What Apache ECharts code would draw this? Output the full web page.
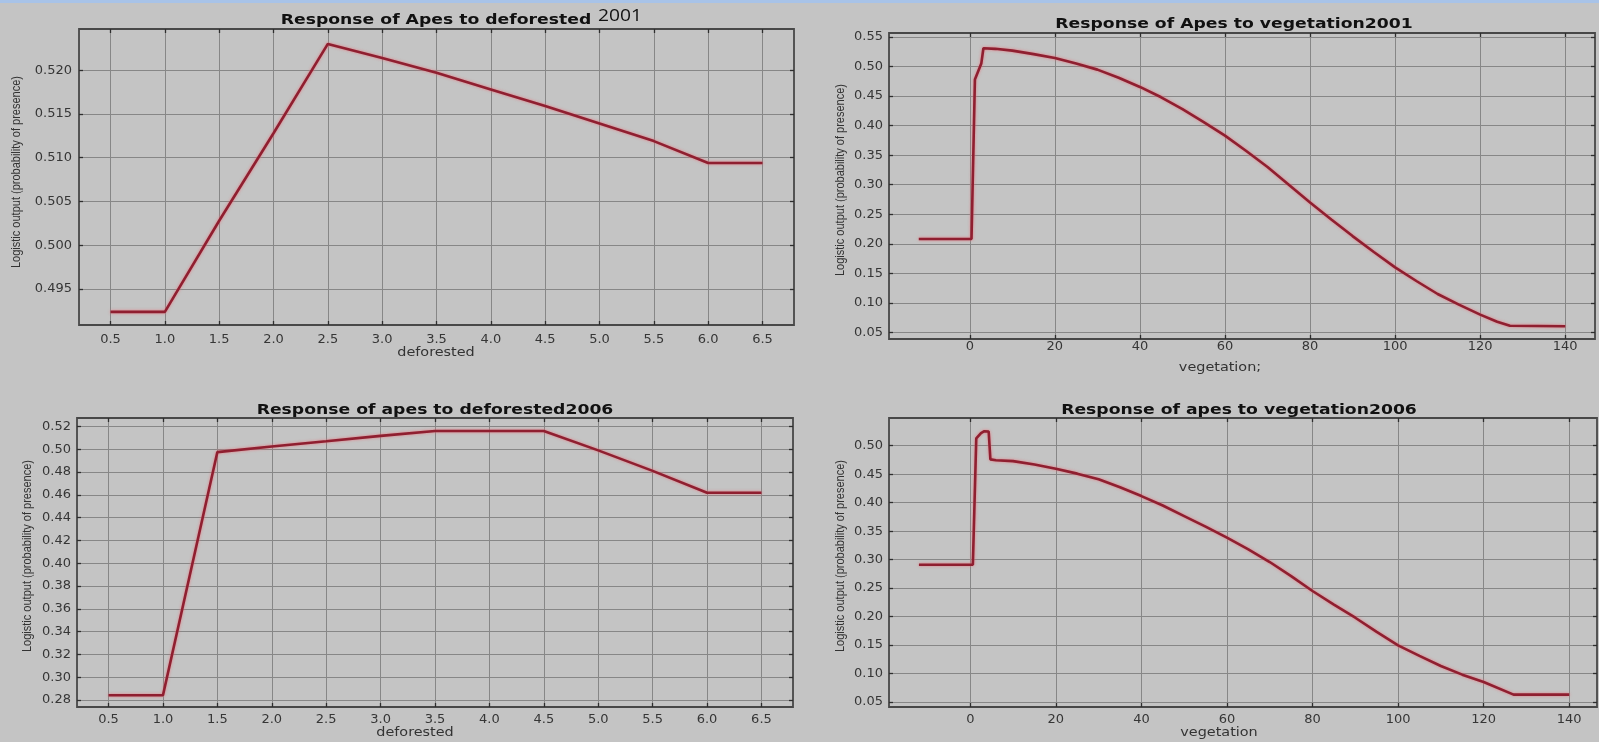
<!DOCTYPE html>
<html><head><meta charset="utf-8">
<script src="https://cdn.jsdelivr.net/npm/echarts@6/dist/echarts.min.js"></script>
<style>html,body{margin:0;padding:0;background:#c4c4c4;}#c{width:1599px;height:742px;}</style>
</head><body><div id="c"></div><script>
// ---- data ----
const titles = ['Response of Apes to deforested', 'Response of Apes to vegetation2001', 'Response of apes to deforested2006', 'Response of apes to vegetation2006'];
const titleSuffix1 = '2001';
const xNames = ['deforested', 'vegetation;', 'deforested', 'vegetation'];
const yName = 'Logistic output (probability of presence)';

const def2001X = [0.5, 1.0, 1.5, 2.0, 2.5, 3.0, 3.5, 4.0, 4.5, 5.0, 5.5, 6.0, 6.5];
const def2001Y = [0.4924, 0.4924, 0.5028, 0.5128, 0.5230, 0.5214, 0.5197, 0.5178, 0.5159, 0.5139, 0.5119, 0.5094, 0.5094];

const veg2001X = [-12, 0.4, 1.2, 2.7, 3.2, 6, 10, 15, 20, 25, 30, 35, 40, 45, 50, 55, 60, 65, 70, 75, 80, 85, 90, 95, 100, 105, 110, 115, 120, 124, 127, 140];
const veg2001Y = [0.208, 0.208, 0.478, 0.505, 0.531, 0.530, 0.527, 0.521, 0.5145, 0.505, 0.4948, 0.481, 0.4655, 0.448, 0.428, 0.406, 0.383, 0.357, 0.330, 0.300, 0.270, 0.241, 0.213, 0.186, 0.160, 0.137, 0.115, 0.097, 0.080, 0.068, 0.0612, 0.0605];

const def2006X = [0.5, 1.0, 1.5, 2.0, 2.5, 3.0, 3.5, 4.0, 4.5, 5.0, 5.5, 6.0, 6.5];
const def2006Y = [0.2842, 0.2842, 0.4975, 0.5024, 0.5070, 0.5117, 0.5160, 0.5160, 0.5160, 0.4990, 0.4810, 0.4618, 0.4618];

const veg2006X = [-12, 0.6, 1.4, 2.5, 3.3, 4.3, 4.7, 6, 10, 15, 20, 25, 30, 35, 40, 45, 50, 55, 60, 65, 70, 75, 80, 85, 90, 95, 100, 105, 110, 115, 120, 127, 140];
const veg2006Y = [0.291, 0.291, 0.513, 0.522, 0.5255, 0.525, 0.476, 0.4745, 0.473, 0.467, 0.4596, 0.451, 0.441, 0.427, 0.4116, 0.395, 0.3765, 0.358, 0.3385, 0.318, 0.2958, 0.271, 0.2449, 0.221, 0.198, 0.173, 0.1495, 0.131, 0.1132, 0.098, 0.0851, 0.0630, 0.0630];

const defXTicks = [0.5, 1.0, 1.5, 2.0, 2.5, 3.0, 3.5, 4.0, 4.5, 5.0, 5.5, 6.0, 6.5];
const vegXTicks = [0, 20, 40, 60, 80, 100, 120, 140];
const def2001YTicks = [0.495, 0.500, 0.505, 0.510, 0.515, 0.520];
const veg2001YTicks = [0.05, 0.10, 0.15, 0.20, 0.25, 0.30, 0.35, 0.40, 0.45, 0.50, 0.55];
const def2006YTicks = [0.28, 0.30, 0.32, 0.34, 0.36, 0.38, 0.40, 0.42, 0.44, 0.46, 0.48, 0.50, 0.52];
const veg2006YTicks = [0.05, 0.10, 0.15, 0.20, 0.25, 0.30, 0.35, 0.40, 0.45, 0.50];

// ---- layout / style ----
const panels = [
  {grid:{left:79, top:29, width:715, height:296}, x:[0.21, 6.79], y:[0.4909, 0.5247], xt:defXTicks, yt:def2001YTicks, xd:1, yd:3, xm:8, ym:7, data:[def2001X, def2001Y]},
  {grid:{left:889, top:33, width:706, height:306}, x:[-19, 147], y:[0.0388, 0.5568], xt:vegXTicks, yt:veg2001YTicks, xd:0, yd:2, xm:1, ym:6, data:[veg2001X, veg2001Y]},
  {grid:{left:77, top:418, width:716, height:289}, x:[0.21, 6.79], y:[0.2739, 0.5274], xt:defXTicks, yt:def2006YTicks, xd:1, yd:2, xm:6, ym:6, data:[def2006X, def2006Y]},
  {grid:{left:889, top:418, width:708, height:289}, x:[-19, 146.5], y:[0.0412, 0.5487], xt:vegXTicks, yt:veg2006YTicks, xd:0, yd:2, xm:6, ym:6, data:[veg2006X, veg2006Y]}
];
const titlePos = [[436, 20], [1234, 24], [435, 410], [1239, 410]];
const yNamePos = [[16, 172], [840, 180], [27, 556], [840, 556]];
const xNamePos = [[436, 353], [1220, 368], [415, 733], [1219, 733]];

const labelFont = {fontFamily:'DejaVu Sans', fontSize:13, color:'#363636'};
const tickStyle = {color:'#2e2e2e', width:1.3};
const gridLineColor = '#878787';

const grids = [], xAxes = [], yAxes = [], series = [];
panels.forEach((p, i) => {
  grids.push(Object.assign({show:true, borderColor:'#484848', borderWidth:1.8, backgroundColor:'transparent'}, p.grid));
  xAxes.push({type:'value', gridIndex:i, min:p.x[0], max:p.x[1], position:'bottom',
    axisLine:{show:false, onZero:false},
    axisTick:{show:true, inside:true, length:4, lineStyle:tickStyle, customValues:p.xt},
    axisLabel:Object.assign({show:true, margin:p.xm, customValues:p.xt, formatter:v => (+v).toFixed(p.xd)}, labelFont),
    splitLine:{show:true, lineStyle:{color:gridLineColor, width:1}}});
  yAxes.push({type:'value', gridIndex:i, min:p.y[0], max:p.y[1], position:'left',
    axisLine:{show:false, onZero:false},
    axisTick:{show:true, inside:true, length:4, lineStyle:tickStyle, customValues:p.yt},
    axisLabel:Object.assign({show:true, margin:p.ym, customValues:p.yt, formatter:v => (+v).toFixed(p.yd)}, labelFont),
    splitLine:{show:true, lineStyle:{color:gridLineColor, width:1}}});
  series.push({type:'line', xAxisIndex:i, yAxisIndex:i, showSymbol:false, symbol:'none', silent:true,
    data:p.data[0].map((x, k) => [x, p.data[1][k]]),
    lineStyle:{color:'#8f1f30', width:2.6, shadowColor:'rgba(235,110,120,0.85)', shadowBlur:3},
    z:5});
});
// mirrored ticks on top and right
panels.forEach((p, i) => {
  xAxes.push({type:'value', gridIndex:i, min:p.x[0], max:p.x[1], position:'top',
    axisLine:{show:false, onZero:false}, axisLabel:{show:false}, splitLine:{show:false},
    axisTick:{show:true, inside:true, length:4, lineStyle:tickStyle, customValues:p.xt}});
  yAxes.push({type:'value', gridIndex:i, min:p.y[0], max:p.y[1], position:'right',
    axisLine:{show:false, onZero:false}, axisLabel:{show:false}, splitLine:{show:false},
    axisTick:{show:true, inside:true, length:4, lineStyle:tickStyle, customValues:p.yt}});
});

const graphics = [{type:'rect', left:0, top:0, shape:{x:0, y:0, width:1599, height:3}, style:{fill:'#a8c3e8'}, silent:true}];
titles.forEach((t, i) => {
  graphics.push({type:'text', x:titlePos[i][0], y:titlePos[i][1], scaleX:1.23,
    style:{text:t, fontFamily:'DejaVu Sans', fontWeight:'bold', fontSize:14, fill:'#111', align:'center', verticalAlign:'middle'}});
  graphics.push({type:'text', x:yNamePos[i][0], y:yNamePos[i][1], rotation:Math.PI/2, scaleY:1.2,
    style:{text:yName, fontFamily:'Liberation Sans', fontSize:11, fill:'#333', align:'center', verticalAlign:'middle'}});
  graphics.push({type:'text', x:xNamePos[i][0], y:xNamePos[i][1], scaleX:1.2,
    style:{text:xNames[i], fontFamily:'DejaVu Sans', fontSize:12, fill:'#333', align:'center', verticalAlign:'middle'}});
});
graphics.push({type:'text', x:598, y:16, scaleX:1.2,
  style:{text:titleSuffix1, fontFamily:'Open Sans', fontSize:16, fill:'#111', align:'left', verticalAlign:'middle'}});

const chart = echarts.init(document.getElementById('c'), null, {renderer:'canvas'});
chart.setOption({
  backgroundColor:'#c4c4c4',
  animation:false,
  grid:grids, xAxis:xAxes, yAxis:yAxes, series:series,
  graphic:graphics
});
</script></body></html>
